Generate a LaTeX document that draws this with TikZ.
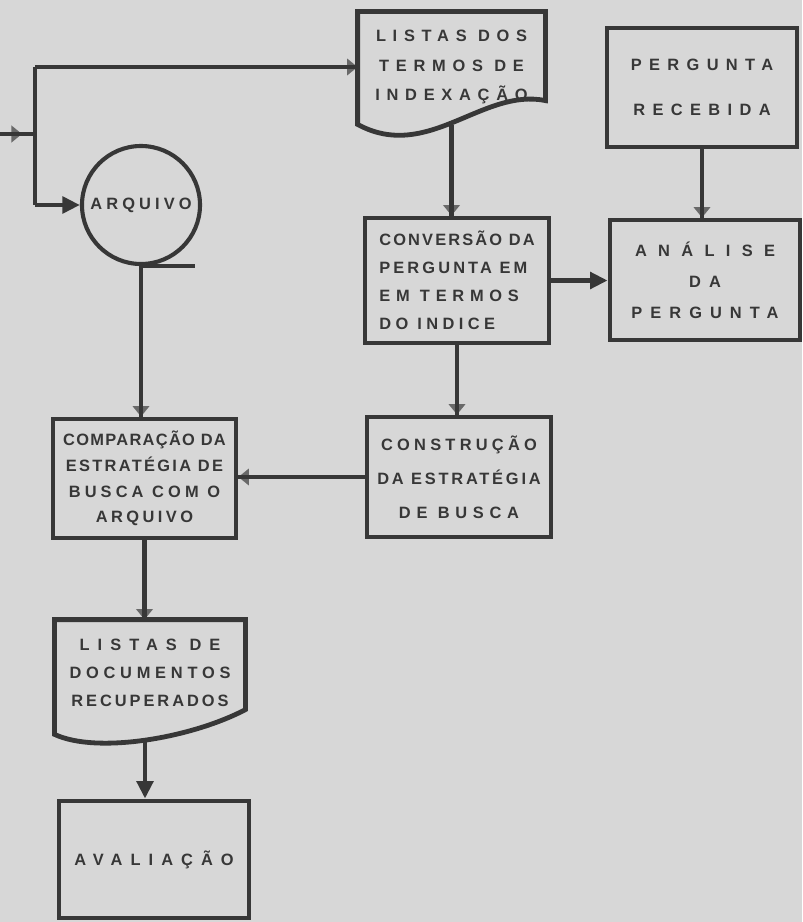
\documentclass[tikz,border=0pt]{standalone}
\usepackage{fontspec}
\newfontfamily\lettering{Liberation Sans}
\usetikzlibrary{arrows.meta,calc}

\definecolor{paper}{RGB}{215,215,215}
\definecolor{ink}{RGB}{55,55,55}
\definecolor{ghost}{RGB}{105,105,105}
\newcommand\trk[2]{{\addfontfeature{LetterSpace=#1}#2}}

\begin{document}
\begin{tikzpicture}[x=0.03cm,y=-0.03cm,ink,line width=4.1pt,
    lines/.style={font=\fontsize{14}{#1}\lettering\bfseries,text=ink,align=center},
    box/.style={draw,rectangle,inner sep=0pt},
    flow/.style={-{Triangle[length=15pt,width=14pt]}},
    ghost flow/.style={-{Triangle[length=9pt,width=14pt,color=ghost]},postaction={draw,-}}]
  \path[fill=paper,use as bounding box] (0,0) rectangle (802,922);

  % blocks
  \node[minimum width=5.49cm,minimum height=3.18cm,lines=25.5pt] (termos) at (451.5,67)
    {\trk{41}{LISTAS DOS}\\\trk{41}{TERMOS DE}\\\trk{41}{INDEXAÇÃO}};
  \draw (termos.north west) -- (termos.north east) -- ++(0,89)
    .. controls +(-63,-13) and +(70,38) .. ($(termos.south west)+(0,2)$) -- cycle;
  \coordinate (termos wave) at ($(termos.south)+(0,3)$);

  \node[box,minimum width=5.7cm,minimum height=3.57cm,lines=39pt] (pergunta) at (702,87.5)
    {\trk{45}{PERGUNTA}\\\trk{45}{RECEBIDA}};

  \node[draw,circle,minimum size=3.54cm,inner sep=0pt,line width=3.5pt,lines=20pt] (arquivo) at (141,205)
    {\trk{25}{ARQUIVO}};
  \draw[line width=3.5pt] (arquivo.south) -- ++(54,0);

  \node[box,minimum width=5.52cm,minimum height=3.75cm,lines=24pt,align=left] (conversao) at (457,280.5)
    {\trk{13}{CONVERSÃO DA}\\\trk{19}{PERGUNTA EM}\\\trk{35}{EM TERMOS}\\\trk{27}{DO INDICE}};

  \node[box,minimum width=5.7cm,minimum height=3.6cm,lines=26.4pt] (analise) at (705,280)
    {\trk{69}{ANÁLISE}\\\trk{50}{DA}\\\trk{49}{PERGUNTA}};

  \node[box,minimum width=5.52cm,minimum height=3.6cm,lines=29pt] (construcao) at (459,477)
    {\trk{26}{CONSTRUÇÃO}\\\trk{17}{DA ESTRATÉGIA}\\\trk{35}{DE BUSCA}};

  \node[box,minimum width=5.49cm,minimum height=3.57cm,lines=22pt] (comparacao) at (144.5,478.5)
    {\trk{8}{COMPARAÇÃO DA}\\\trk{14}{ESTRATÉGIA DE}\\\trk{25}{BUSCA COM O}\\\trk{21}{ARQUIVO}};

  \node[minimum width=5.58cm,minimum height=3.06cm,lines=24pt] (documentos) at (150,673)
    {\trk{49}{LISTAS DE}\\\trk{29}{DOCUMENTOS}\\\trk{18}{RECUPERADOS}};
  \draw (documentos.north west) -- (documentos.north east) -- ++(0,90)
    .. controls +(-53,28) and +(43,20) .. ($(documentos.south west)+(0,8)$) -- cycle;
  \coordinate (documentos wave) at ($(documentos.south)+(-5,16)$);

  \node[box,minimum width=5.7cm,minimum height=3.51cm,lines=20pt] (avaliacao) at (154,859.5)
    {\trk{49}{AVALIAÇÃO}};

  % input and branch
  \coordinate (feed) at (0,134);
  \coordinate (split) at (35,134);
  \draw (feed) -- (split);
  \draw[ghost flow] (feed) -- ++(22,0);
  \draw (split |- termos.west) -- (split |- arquivo.west);
  \draw[ghost flow] (split |- termos.west) -- (termos.west);
  \draw[flow] (split |- arquivo.west) -- (arquivo.west);

  % flow lines
  \draw[ghost flow] (termos wave) -- (termos wave |- conversao.north);
  \draw[ghost flow] (pergunta.south) -- (pergunta.south |- analise.north);
  \draw[flow] (conversao.east) -- (conversao.east -| analise.west);
  \draw[ghost flow] (conversao.south) -- (conversao.south |- construcao.north);
  \draw[ghost flow] (construcao.west) -- (construcao.west -| comparacao.east);
  \draw[ghost flow] (arquivo.south) -- (arquivo.south |- comparacao.north);
  \draw[ghost flow] (comparacao.south) -- (comparacao.south |- documentos.north);
  \draw[flow] (documentos wave) -- (documentos wave |- avaliacao.north);
\end{tikzpicture}
\end{document}
